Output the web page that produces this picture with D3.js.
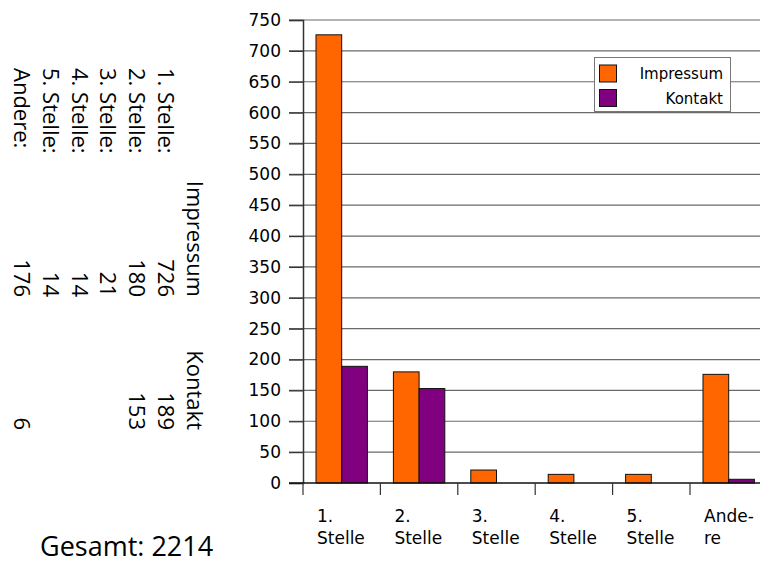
<!DOCTYPE html>
<html>
<head>
<meta charset="utf-8">
<script src="https://cdn.jsdelivr.net/npm/d3@7"></script>
<style>
  body { margin: 0; background: #fff; }
  svg { display: block; }
</style>
</head>
<body>
<svg id="chart" width="760" height="565"></svg>
<script>
// chart data
const categories = ['1. Stelle', '2. Stelle', '3. Stelle', '4. Stelle', '5. Stelle', 'Andere'];
const axisLabels = [['1.', 'Stelle'], ['2.', 'Stelle'], ['3.', 'Stelle'], ['4.', 'Stelle'], ['5.', 'Stelle'], ['Ande-', 're']];
const impressum = [726, 180, 21, 14, 14, 176];
const kontakt = [189, 153, null, null, null, 6];
const seriesNames = ['Impressum', 'Kontakt'];
const yTicks = [0, 50, 100, 150, 200, 250, 300, 350, 400, 450, 500, 550, 600, 650, 700, 750];
const total = 2214;

const colors = { Impressum: '#ff6600', Kontakt: '#800080' };
const svg = d3.select('#chart');

const y = d3.scaleLinear().domain([0, 750]).range([483, 20]);
const x = d3.scaleBand().domain(categories).range([303, 767.4]);
const xSub = d3.scaleBand().domain(seriesNames).range([13, 64.4]);

const rows = categories.map((c, i) => ({ cat: c, Impressum: impressum[i], Kontakt: kontakt[i] }));

// gridlines
svg.append('g')
  .selectAll('line')
  .data(yTicks.filter((t) => t > 0))
  .join('line')
  .attr('x1', 289)
  .attr('x2', 760)
  .attr('y1', (d) => y(d))
  .attr('y2', (d) => y(d))
  .attr('stroke', '#6a6a6a')
  .attr('stroke-width', 1.2);

// y axis
const yAxis = svg.append('g')
  .attr('transform', 'translate(303,0)')
  .call(d3.axisLeft(y).tickValues(yTicks).tickSize(14).tickPadding(8));
yAxis.select('.domain').attr('stroke', '#333').attr('stroke-width', 1.5);
yAxis.selectAll('.tick line').attr('stroke', '#333').attr('stroke-width', 1.2);
yAxis.selectAll('text')
  .style('font-family', '"DejaVu Sans", Verdana, sans-serif')
  .style('font-size', '17px')
  .attr('fill', '#000');

// bars
svg.append('g')
  .selectAll('g')
  .data(rows)
  .join('g')
  .attr('transform', (d) => `translate(${x(d.cat)},0)`)
  .selectAll('rect')
  .data((d) => seriesNames.filter((s) => d[s] != null).map((s) => ({ key: s, value: d[s] })))
  .join('rect')
  .attr('x', (d) => xSub(d.key))
  .attr('width', xSub.bandwidth())
  .attr('y', (d) => y(d.value))
  .attr('height', (d) => y(0) - y(d.value))
  .attr('fill', (d) => colors[d.key])
  .attr('stroke', '#111')
  .attr('stroke-width', 1);

// x axis
const xAxis = svg.append('g')
  .attr('transform', `translate(0,${y(0)})`);
xAxis.append('line')
  .attr('x1', 289).attr('x2', 767)
  .attr('stroke', '#111').attr('stroke-width', 1.5);
xAxis.selectAll('.xtick')
  .data(categories)
  .join('line')
  .attr('class', 'xtick')
  .attr('x1', (d) => x(d))
  .attr('x2', (d) => x(d))
  .attr('y1', 0)
  .attr('y2', 12)
  .attr('stroke', '#333')
  .attr('stroke-width', 1.2);
xAxis.selectAll('text')
  .data(axisLabels)
  .join('text')
  .attr('x', (d, i) => x(categories[i]) + 14)
  .attr('y', 38.5)
  .style('font-family', '"DejaVu Sans", Verdana, sans-serif')
  .style('font-size', '17px')
  .selectAll('tspan')
  .data((d) => d)
  .join('tspan')
  .attr('x', function () { return this.parentNode.getAttribute('x'); })
  .attr('dy', (d, i) => (i === 0 ? 0 : 22))
  .text((d) => d);

// legend
const legend = svg.append('g');
legend.append('rect')
  .attr('x', 594.5).attr('y', 57.5)
  .attr('width', 136).attr('height', 54)
  .attr('fill', '#fff')
  .attr('stroke', '#777');
const items = legend.selectAll('g')
  .data(seriesNames)
  .join('g')
  .attr('transform', (d, i) => `translate(0,${i * 24.5})`);
items.append('rect')
  .attr('x', 599.5).attr('y', 65)
  .attr('width', 17).attr('height', 17)
  .attr('fill', (d) => colors[d])
  .attr('stroke', '#111');
items.append('text')
  .attr('x', 723).attr('y', 79)
  .attr('text-anchor', 'end')
  .style('font-family', '"DejaVu Sans", Verdana, sans-serif')
  .style('font-size', '15px')
  .text((d) => d);

// rotated summary table on the left
const table = svg.append('g')
  .attr('transform', 'translate(186.5,0) rotate(90)')
  .style('font-family', '"Open Sans", "Noto Sans", sans-serif')
  .style('font-size', '22px');
const lineGap = 28.7;
table.append('text').attr('x', 297).attr('y', 0).attr('text-anchor', 'end').text(seriesNames[0]);
table.append('text').attr('x', 430).attr('y', 0).attr('text-anchor', 'end').text(seriesNames[1]);
rows.forEach((r, i) => {
  const ly = (i + 1) * lineGap;
  table.append('text').attr('x', 68).attr('y', ly).text(`${r.cat}:`);
  if (r.Impressum != null) {
    table.append('text').attr('x', 297).attr('y', ly).attr('text-anchor', 'end').text(r.Impressum);
  }
  if (r.Kontakt != null) {
    table.append('text').attr('x', 430).attr('y', ly).attr('text-anchor', 'end').text(r.Kontakt);
  }
});

svg.append('text')
  .attr('x', 40).attr('y', 556)
  .style('font-family', '"Open Sans", "Noto Sans", sans-serif')
  .style('font-size', '27px')
  .text(`Gesamt: ${total}`);
</script>
</body>
</html>
